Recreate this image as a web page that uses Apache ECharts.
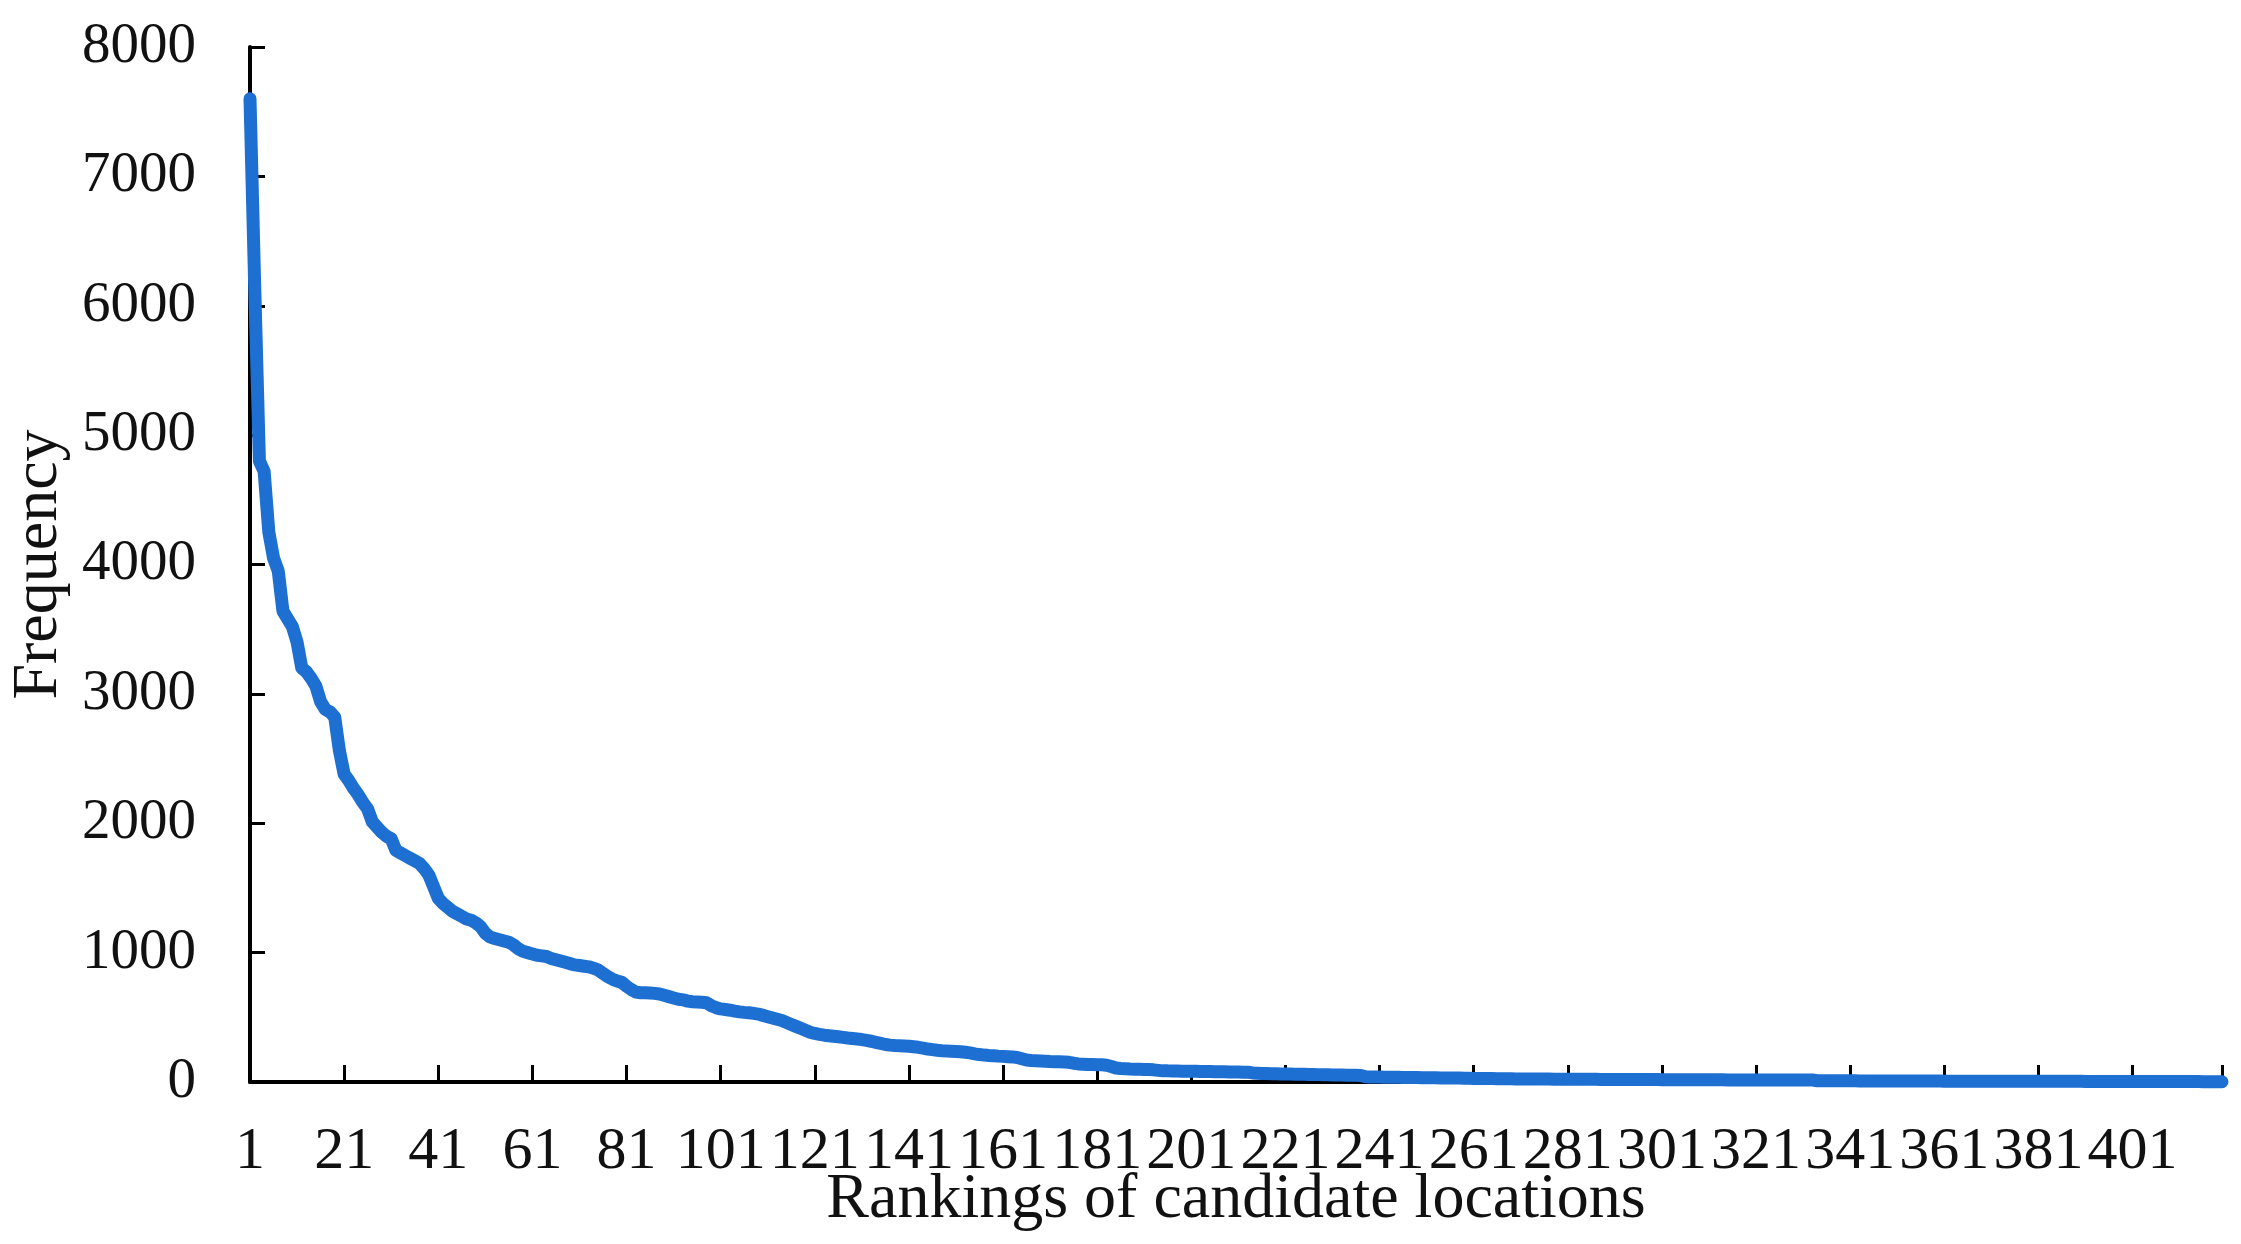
<!DOCTYPE html>
<html>
<head>
<meta charset="utf-8">
<style>
html,body{margin:0;padding:0;background:#fff;}
#chart{width:2241px;height:1244px;}
</style>
<script src="https://cdn.jsdelivr.net/npm/echarts@6/dist/echarts.min.js"></script>
</head>
<body>
<div id="chart"></div>
<script>
// Frequency of each candidate location, by ranking
const freqRank1to40 = [7600, 6150, 4800, 4720, 4250, 4050, 3950, 3640, 3580, 3520, 3400, 3200, 3170, 3120, 3060, 2940, 2880, 2860, 2820, 2560,
  2380, 2330, 2270, 2220, 2160, 2110, 2010, 1970, 1930, 1900, 1880, 1790, 1770, 1750, 1730, 1710, 1690, 1650, 1600, 1510];
const freqRank41to120 = [1420, 1380, 1350, 1320, 1300, 1280, 1260, 1250, 1230, 1200, 1150, 1120, 1110, 1100, 1090, 1080, 1060, 1030, 1010, 1000,
  990, 980, 975, 970, 955, 945, 935, 925, 915, 905, 900, 895, 890, 880, 865, 840, 815, 795, 780, 770,
  740, 715, 695, 690, 690, 688, 685, 680, 670, 660, 650, 640, 635, 625, 620, 618, 616, 612, 590, 575,
  565, 560, 555, 548, 542, 538, 535, 530, 525, 515, 505, 495, 485, 475, 460, 445, 430, 415, 400, 385];
const freqRank121to240 = [375, 368, 362, 358, 354, 350, 345, 340, 336, 332, 328, 322, 315, 306, 298, 290, 285, 282, 280, 278,
  276, 272, 268, 262, 255, 250, 245, 242, 240, 238, 236, 234, 230, 225, 218, 212, 208, 205, 203, 200,
  198, 196, 194, 190, 180, 170, 166, 164, 162, 160, 158, 157, 156, 155, 152, 145, 140, 138, 136, 135,
  134, 133, 130, 120, 108, 104, 102, 100, 99, 98, 97, 96, 94, 90, 86, 86, 85, 85, 84, 84,
  83, 83, 82, 82, 81, 80, 80, 79, 78, 78, 77, 76, 76, 70, 68, 66, 65, 64, 63, 62,
  62, 61, 60, 60, 59, 58, 58, 57, 56, 56, 55, 54, 54, 53, 52, 52, 51, 40, 39, 38];
const freqRank241to420 = [38, 37, 37, 36, 36, 35, 35, 34, 34, 33, 33, 32, 32, 31, 31, 30, 30, 30, 29, 29,
  28, 28, 28, 27, 27, 26, 26, 25, 25, 24, 24, 24, 24, 23, 23, 23, 23, 22, 22, 22,
  22, 22, 21, 21, 21, 21, 21, 20, 20, 20, 20, 20, 20, 19, 19, 19, 19, 19, 19, 19,
  18, 18, 18, 18, 18, 18, 18, 17, 17, 17, 17, 17, 17, 17, 16, 16, 16, 16, 16, 16,
  16, 16, 16, 15, 15, 15, 15, 15, 15, 15, 15, 15, 15, 10, 10, 10, 9, 9, 9, 9,
  9, 9, 8, 8, 8, 8, 8, 8, 8, 8, 7, 7, 7, 7, 7, 7, 7, 7, 7, 7,
  6, 6, 6, 6, 6, 6, 6, 6, 6, 6, 6, 6, 6, 6, 6, 6, 6, 6, 6, 6,
  5, 5, 5, 5, 5, 5, 5, 5, 5, 5, 4, 4, 4, 4, 4, 4, 4, 4, 4, 4,
  4, 4, 4, 4, 4, 3, 3, 3, 3, 3, 3, 3, 3, 3, 3, 2, 2, 2, 2, 2];

const frequency = [].concat(freqRank1to40, freqRank41to120, freqRank121to240, freqRank241to420);
const rankings = frequency.map((v, i) => String(i + 1));

const yTicks = { min: 0, max: 8000, interval: 1000 };
const labelStep = 20;

const xTitle = 'Rankings of candidate locations';
const yTitle = 'Frequency';

const serif = '"Liberation Serif", "Times New Roman", serif';
const chart = echarts.init(document.getElementById('chart'));
chart.setOption({
  animation: false,
  backgroundColor: '#ffffff',
  grid: { left: 250, right: 19, top: 47, bottom: 162, containLabel: false, outerBoundsMode: 'none' },
  xAxis: {
    type: 'category',
    data: rankings,
    boundaryGap: false,
    name: xTitle,
    nameLocation: 'middle',
    nameGap: 86,
    nameMoveOverlap: false,
    nameTextStyle: { fontFamily: serif, fontSize: 64, color: '#111' },
    axisLine: { show: true, lineStyle: { color: '#000', width: 4 } },
    axisTick: {
      show: true, inside: true, length: 17,
      interval: (i) => i % labelStep === 0 || i === rankings.length - 1,
      lineStyle: { color: '#000', width: 3 }
    },
    axisLabel: {
      interval: (i) => i % labelStep === 0,
      fontFamily: serif, fontSize: 60, color: '#111', margin: 40
    },
    splitLine: { show: false }
  },
  yAxis: {
    type: 'value',
    min: yTicks.min, max: yTicks.max, interval: yTicks.interval,
    name: yTitle,
    nameLocation: 'middle',
    nameGap: 172,
    nameTextStyle: { fontFamily: serif, fontSize: 64, color: '#111' },
    axisLine: { show: true, lineStyle: { color: '#000', width: 4 } },
    axisTick: { show: true, inside: true, length: 15, lineStyle: { color: '#000', width: 3 } },
    axisLabel: { fontFamily: serif, fontSize: 57, color: '#111', margin: 54, formatter: (v) => String(v) },
    splitLine: { show: false }
  },
  series: [{
    type: 'line',
    data: frequency,
    showSymbol: false,
    symbol: 'none',
    clip: false,
    lineStyle: { color: '#1e6fd2', width: 13, cap: 'round', join: 'round' }
  }]
});
</script>
</body>
</html>
